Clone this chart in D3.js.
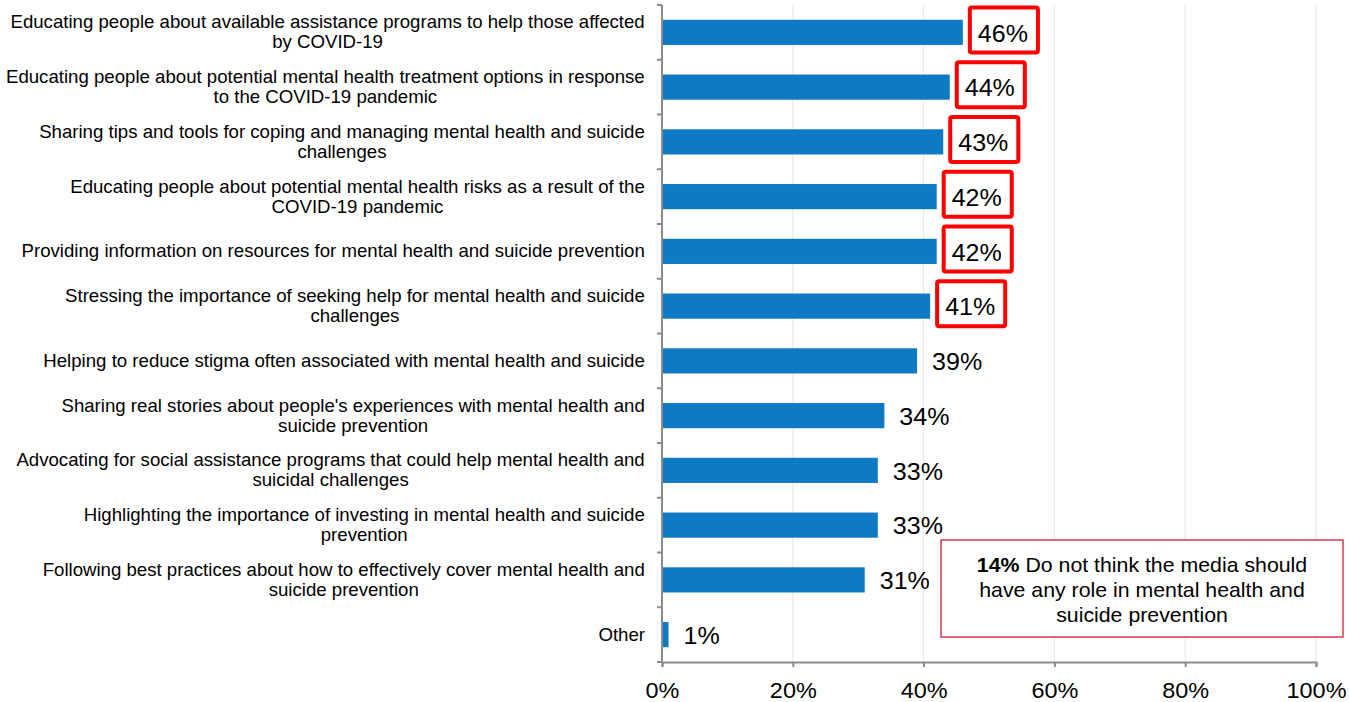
<!DOCTYPE html>
<html>
<head>
<meta charset="utf-8">
<script src="https://cdn.jsdelivr.net/npm/d3@7/dist/d3.min.js"></script>
<style>
  html, body { margin: 0; padding: 0; background: #fff; }
  svg { display: block; font-family: Arial, "Liberation Sans", sans-serif; }
</style>
</head>
<body>
<svg id="chart" width="1349" height="702"></svg>
<script>
// Survey responses: roles the media could play in mental health and suicide prevention
const categories = [
  ["Educating people about available assistance programs to help those affected", "by COVID-19"],
  ["Educating people about potential mental health treatment options in response", "to the COVID-19 pandemic"],
  ["Sharing tips and tools for coping and managing mental health and suicide", "challenges"],
  ["Educating people about potential mental health risks as a result of the", "COVID-19 pandemic"],
  ["Providing information on resources for mental health and suicide prevention"],
  ["Stressing the importance of seeking help for mental health and suicide", "challenges"],
  ["Helping to reduce stigma often associated with mental health and suicide"],
  ["Sharing real stories about people's experiences with mental health and", "suicide prevention"],
  ["Advocating for social assistance programs that could help mental health and", "suicidal challenges"],
  ["Highlighting the importance of investing in mental health and suicide", "prevention"],
  ["Following best practices about how to effectively cover mental health and", "suicide prevention"],
  ["Other"]
];
const values = [46, 44, 43, 42, 42, 41, 39, 34, 33, 33, 31, 1];
const highlighted = [true, true, true, true, true, true, false, false, false, false, false, false];
const tickValues = [0, 20, 40, 60, 80, 100];
const noteLines = [["14%", " Do not think the media should"], ["", "have any role in mental health and"], ["", "suicide prevention"]];

const svg = d3.select("#chart");
const margin = { left: 662, right: 33, top: 5, bottom: 40 };
const W = 1349, H = 702;
const stretch = 1.065; // slightly wide lettering

const x = d3.scaleLinear().domain([0, 100]).range([margin.left, W - margin.right]);
const y = d3.scaleBand().domain(d3.range(categories.length))
  .range([margin.top, H - margin.bottom]).paddingInner(0.54).paddingOuter(0.27);
const step = y.step();
const bandTop = margin.top;

// vertical gridlines
svg.append("g").selectAll("line").data(tickValues.filter(d => d > 0)).join("line")
  .attr("x1", d => x(d)).attr("x2", d => x(d))
  .attr("y1", bandTop).attr("y2", H - margin.bottom)
  .attr("stroke", "#e6e6e6").attr("stroke-width", 1);

// bars
svg.append("g").selectAll("rect").data(values).join("rect")
  .attr("x", x(0))
  .attr("y", (d, i) => y(i))
  .attr("width", d => x(d) - x(0))
  .attr("height", y.bandwidth())
  .attr("fill", "#0e79c5");

// x axis
const xAxis = d3.axisBottom(x).tickValues(tickValues).tickFormat(d => d + "%").tickSize(5).tickPadding(15);
const gx = svg.append("g").attr("transform", `translate(0,${H - margin.bottom})`).call(xAxis);
gx.select(".domain").attr("stroke", "#8c8c8c").attr("stroke-width", 2);
gx.selectAll(".tick line").attr("stroke", "#8c8c8c").attr("stroke-width", 2);
gx.selectAll(".tick text").attr("font-size", 22).attr("fill", "#000")
  .attr("font-family", "Arial, 'Liberation Sans', sans-serif")
  .attr("transform", `scale(${stretch},1)`);

// y axis line with boundary ticks
const gy = svg.append("g");
gy.append("line").attr("x1", x(0)).attr("x2", x(0)).attr("y1", bandTop).attr("y2", H - margin.bottom)
  .attr("stroke", "#8c8c8c").attr("stroke-width", 2);
gy.selectAll("line.b").data(d3.range(categories.length + 1)).join("line").attr("class", "b")
  .attr("x1", x(0) - 5).attr("x2", x(0))
  .attr("y1", i => bandTop + i * step).attr("y2", i => bandTop + i * step)
  .attr("stroke", "#8c8c8c").attr("stroke-width", 2);

// category labels: centered lines, right edge aligned to the axis
const labelRight = x(0) - 17;
const lineH = 20;
categories.forEach((lines, i) => {
  const cy = y(i) + y.bandwidth() / 2;
  const g = svg.append("g");
  const texts = lines.map((s, j) => g.append("text")
    .attr("font-size", 17.5).attr("fill", "#000")
    .attr("x", 0)
    .attr("y", cy + (j - (lines.length - 1) / 2) * lineH)
    .attr("dy", "0.35em").attr("text-anchor", "middle").text(s));
  const maxW = d3.max(texts, t => t.node().getComputedTextLength()) * stretch;
  g.attr("transform", `translate(${labelRight - maxW / 2},0) scale(${stretch},1)`);
});

// value labels, with red outlines on the leading items
values.forEach((v, i) => {
  const cy = y(i) + y.bandwidth() / 2;
  const tx = x(v) + 15;
  const g = svg.append("g");
  const t = g.append("text").attr("x", 0).attr("y", cy + 1).attr("dy", "0.35em")
    .attr("font-size", 23.5).attr("fill", "#000").text(v + "%");
  g.attr("transform", `translate(${tx},0) scale(${stretch},1)`);
  if (highlighted[i]) {
    const w = t.node().getComputedTextLength() * stretch;
    svg.append("rect")
      .attr("x", tx - 8).attr("y", cy - 25)
      .attr("width", w + 18).attr("height", 45)
      .attr("rx", 2)
      .attr("fill", "none").attr("stroke", "#ff0000").attr("stroke-width", 4);
  }
});

// note box
const box = { x: 941, y: 540, w: 402, h: 97 };
svg.append("rect").attr("x", box.x).attr("y", box.y).attr("width", box.w).attr("height", box.h)
  .attr("fill", "#fff").attr("stroke", "#d33a4c").attr("stroke-width", 1.5);
const ng = svg.append("g").attr("transform", `translate(${box.x + box.w / 2},0) scale(${stretch},1)`);
noteLines.forEach((ln, j) => {
  const t = ng.append("text").attr("x", 0).attr("y", box.y + 25 + j * 25)
    .attr("dy", "0.35em").attr("text-anchor", "middle").attr("font-size", 20).attr("fill", "#000");
  if (ln[0]) t.append("tspan").attr("font-weight", "bold").text(ln[0]);
  t.append("tspan").text(ln[1]);
});
</script>
</body>
</html>
